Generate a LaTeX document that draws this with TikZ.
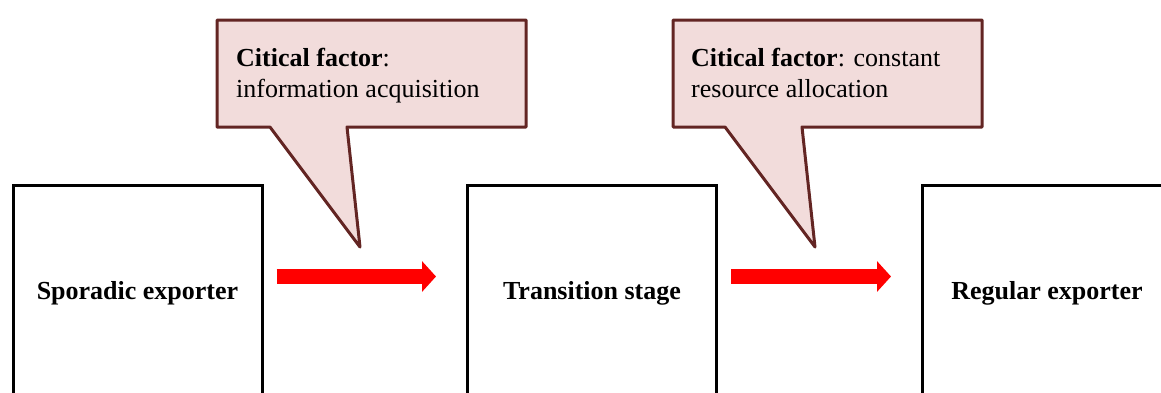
\documentclass[tikz,border=0pt]{standalone}
\usepackage{fontspec}
\setmainfont{Liberation Serif}
\usetikzlibrary{arrows.meta}
\definecolor{calloutfill}{RGB}{242,220,219}
\definecolor{calloutborder}{RGB}{99,37,35}
\begin{document}
\begin{tikzpicture}[x=1pt,y=-1pt,
  stagebox/.style={draw=black,line width=3pt,fill=white,minimum width=249pt,minimum height=216pt,
    font=\fontsize{26}{31}\selectfont\bfseries,inner sep=0pt},
  flow/.style={draw=red,line width=15pt,-{Triangle[length=14pt,width=30pt]}},
  calloutshape/.style={draw=calloutborder,fill=calloutfill,line width=3pt,line join=round},
  callouttext/.style={anchor=base west,inner sep=0pt,font=\fontsize{26}{31}\selectfont}]
\useasboundingbox (0,0) rectangle (1161,392);
\clip (0,0) rectangle (1161,392);

% stages
\node[stagebox] (s) at (137.5,293) {Sporadic exporter};
\node[stagebox] (t) at (592,293) {Transition stage};
\node[stagebox] (r) at (1047,293) {Regular exporter};

% flow arrows
\draw[flow] ([xshift=13pt,yshift=16.5pt]s.east) -- ([xshift=-30pt,yshift=16.5pt]t.west);
\draw[flow] ([xshift=13pt,yshift=16.5pt]t.east) -- ([xshift=-30pt,yshift=16.5pt]r.west);

% callout 1
\coordinate (tip1) at (360,247);
\draw[calloutshape] (217,20) -- (526,20) -- (526,127) -- (347,127) -- (tip1) -- (270,127) -- (217,127) -- cycle;
\node[callouttext] (c1a) at (236,66) {\textbf{Citical factor}:};
\node[callouttext] (c1b) at (236,97) {information acquisition};

% callout 2
\coordinate (tip2) at (815,247);
\draw[calloutshape] (673,20) -- (982,20) -- (982,127) -- (802,127) -- (tip2) -- (725,127) -- (673,127) -- cycle;
\node[callouttext] (c2a) at (691,66) {\textbf{Citical factor}: constant};
\node[callouttext] (c2b) at (691,97) {resource allocation};
\end{tikzpicture}
\end{document}
